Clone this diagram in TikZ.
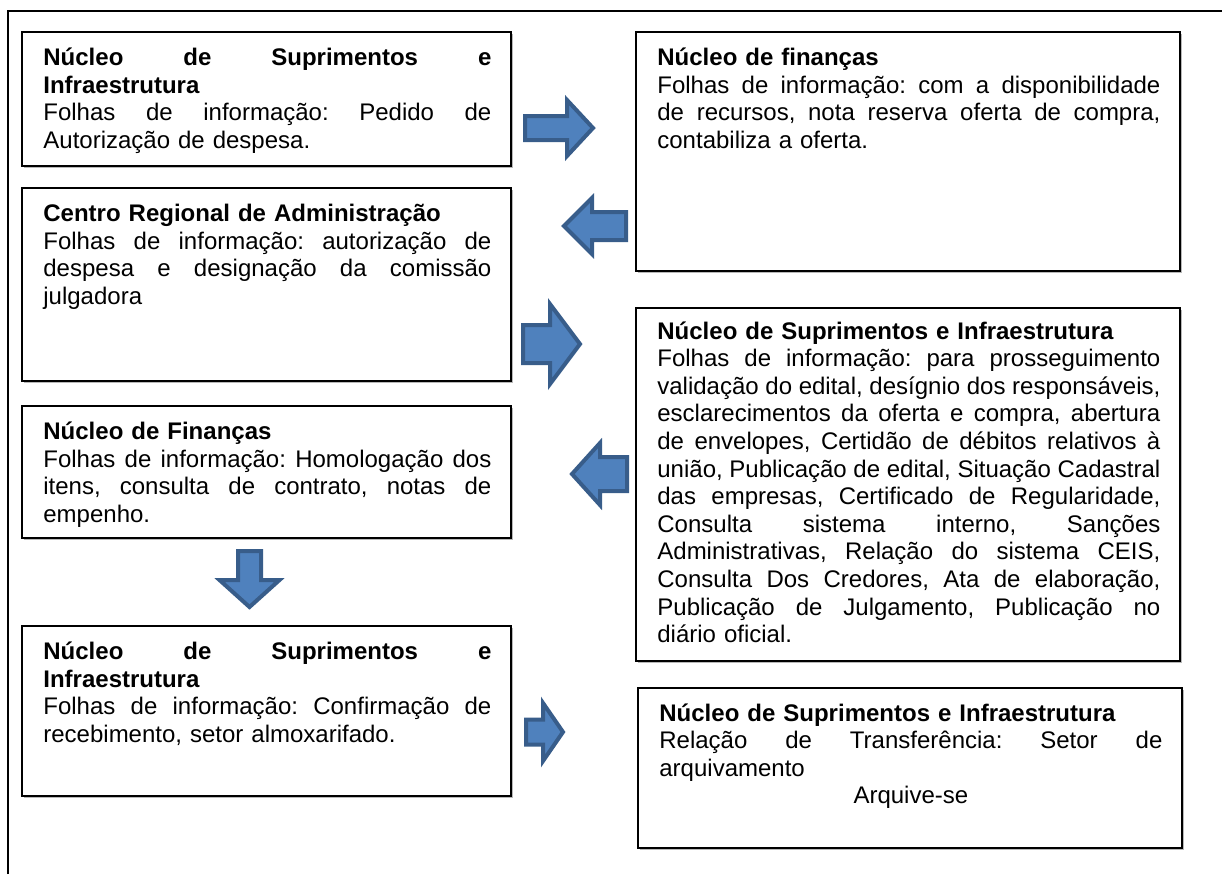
\documentclass[tikz,border=0pt]{standalone}
\usepackage{fontspec}
\setmainfont{Liberation Sans}
\definecolor{arrowfill}{RGB}{79,129,189}
\definecolor{arrowdraw}{RGB}{56,93,138}
\newcommand\jl[1]{{\spaceskip=0pt\xspaceskip=0pt\makebox[\hsize][s]{#1}}}
\newcommand\boxat[4]{%
  \draw[shadowline] ({#1+2},{#4+1.5}) -- ({#3+1.5},{#4+1.5}) -- ({#3+1.5},{#2+2});
  \draw[boxline] (#1,#2) rectangle (#3,#4);}
\newcommand\harrow[6]{% tail, base, tip, cy, shaft half, head half
  \draw[blockarrow] (#1,{#4-#5}) -- (#2,{#4-#5}) -- (#2,{#4-#6}) -- (#3,#4)
    -- (#2,{#4+#6}) -- (#2,{#4+#5}) -- (#1,{#4+#5}) -- cycle;}
\newcommand\varrow[6]{% cx, top, base, tip, shaft half, head half
  \draw[blockarrow] ({#1-#5},#2) -- ({#1-#5},#3) -- ({#1-#6},#3) -- (#1,#4)
    -- ({#1+#6},#3) -- ({#1+#5},#3) -- ({#1+#5},#2) -- cycle;}
\tikzset{
  boxline/.style={draw=black, line width=1pt},
  shadowline/.style={draw=black!28, line width=0.7pt},
  frameline/.style={draw=black, line width=1.2pt},
  blockarrow/.style={fill=arrowfill, draw=arrowdraw, line width=2pt, line join=miter},
  txt/.style={anchor=base west, inner sep=0pt, align=left,
    font=\fontsize{12}{13.8}\selectfont\frenchspacing},
  narrow/.style={txt, text width=224pt},
  wide/.style={txt, text width=251.5pt},
}
\begin{document}
\begin{tikzpicture}[x=0.5pt, y=-0.5pt]
\useasboundingbox (0,0) rectangle (1222,874);
% outer frame
\draw[frameline] (8,874) -- (8,11) -- (1222,11);

% boxes
\boxat{22}{32}{511}{166}
\boxat{636}{32}{1180}{271}
\boxat{22}{188}{511}{381}
\boxat{636}{308}{1180}{661}
\boxat{22}{406}{511}{538}
\boxat{22}{626}{511}{796}
\boxat{638}{688}{1182}{848}

% texts
\node[narrow] (t1) at (43,65.5) {\textbf{\jl{Núcleo de Suprimentos e}}\\
  \textbf{Infraestrutura}\\
  \jl{Folhas de informação: Pedido de}\\
  Autorização de despesa.};

\node[wide] (t2) at (657,65.5) {\textbf{Núcleo de finanças}\\
  \jl{Folhas de informação: com a disponibilidade}\\
  \jl{de recursos, nota reserva oferta de compra,}\\
  contabiliza a oferta.};

\node[narrow] (t3) at (43,221.5) {\textbf{Centro Regional de Administração}\\
  \jl{Folhas de informação: autorização de}\\
  \jl{despesa e designação da comissão}\\
  julgadora};

\node[wide] (t4) at (657,339) {\textbf{Núcleo de Suprimentos e Infraestrutura}\\
  \jl{Folhas de informação: para prosseguimento}\\
  \jl{validação do edital, desígnio dos responsáveis,}\\
  \jl{esclarecimentos da oferta e compra, abertura}\\
  \jl{de envelopes, Certidão de débitos relativos à}\\
  \jl{união, Publicação de edital, Situação Cadastral}\\
  \jl{das empresas, Certificado de Regularidade,}\\
  \jl{Consulta sistema interno, Sanções}\\
  \jl{Administrativas, Relação do sistema CEIS,}\\
  \jl{Consulta Dos Credores, Ata de elaboração,}\\
  \jl{Publicação de Julgamento, Publicação no}\\
  diário oficial.};

\node[narrow] (t5) at (43,439.5) {\textbf{Núcleo de Finanças}\\
  \jl{Folhas de informação: Homologação dos}\\
  \jl{itens, consulta de contrato, notas de}\\
  empenho.};

\node[narrow] (t6) at (43,659.5) {\textbf{\jl{Núcleo de Suprimentos e}}\\
  \textbf{Infraestrutura}\\
  \jl{Folhas de informação: Confirmação de}\\
  recebimento, setor almoxarifado.};

\node[wide] (t7) at (659,721) {\textbf{Núcleo de Suprimentos e Infraestrutura}\\
  \jl{Relação de Transferência: Setor de}\\
  arquivamento\\
  \makebox[\hsize][c]{Arquive-se}};

% block arrows
\harrow{525}{567}{593}{128}{12}{28}
\harrow{626}{592}{564}{226}{14}{28}
\harrow{523}{550}{580}{344}{19}{40}
\harrow{627}{600}{572}{474}{17}{31}
\varrow{249.5}{551}{580}{607}{11.5}{30}
\harrow{526}{543}{563}{732}{12.5}{29}
\end{tikzpicture}
\end{document}
